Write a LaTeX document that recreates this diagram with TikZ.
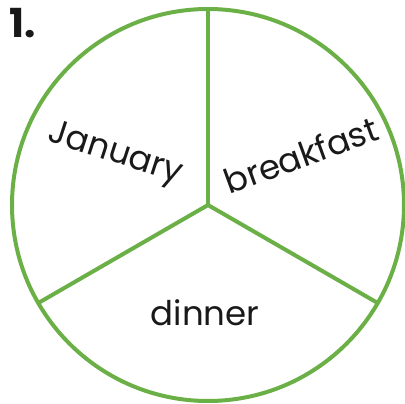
\documentclass[tikz,border=0pt]{standalone}
\usepackage{fontspec}
\setmainfont{Poppins}
\usetikzlibrary{calc}
\definecolor{pgreen}{RGB}{106,176,70}
\begin{document}
\begin{tikzpicture}[x=1pt,y=-1pt,
  seg/.style={draw=pgreen,line width=4pt},
  lbl/.style={font=\fontsize{34}{34}\selectfont,text=black!90,inner sep=0pt}]
\useasboundingbox (0,0) rectangle (405,404);
\coordinate (c) at (208,205);
\draw[seg] (c) circle[radius=196];
\coordinate (top) at (208,9);
\coordinate (ll) at ($(c)+(-169.7,98)$);
\coordinate (lr) at ($(c)+(169.7,98)$);
\draw[seg] (c) -- (top);
\draw[seg] (c) -- (ll);
\draw[seg] (c) -- (lr);
\node[lbl,rotate=-18] (jan) at (115,155) {January};
\node[lbl,rotate=20] (bre) at (301,155) {breakfast};
\node[lbl] (din) at (205,313) {dinner};
\node[font=\fontsize{40}{40}\selectfont\bfseries,text=black!90,inner sep=0pt,anchor=base west] (num) at (9,38) {1.};
\end{tikzpicture}
\end{document}
